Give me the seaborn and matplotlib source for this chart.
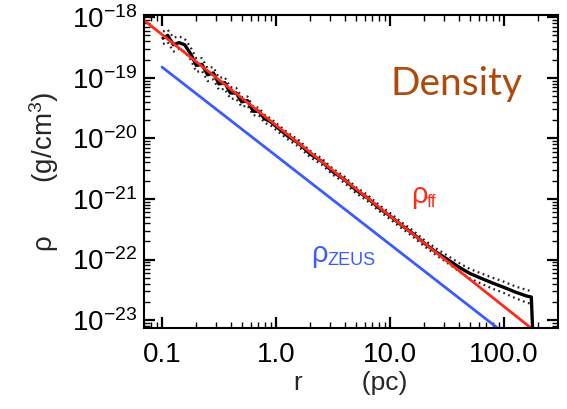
import numpy as np
import pandas as pd
import matplotlib
matplotlib.use("Agg")
import matplotlib.pyplot as plt
import matplotlib.ticker as mticker
import seaborn as sns

sns.set_style("ticks")
plt.rcParams['font.family'] = ['Liberation Sans', 'DejaVu Sans']
plt.rcParams['mathtext.default'] = 'regular'

# radius grid (pc) for the simulation profile
r = [0.102, 0.112, 0.126, 0.141, 0.158, 0.178, 0.2, 0.224, 0.251, 0.282,
     0.316, 0.355, 0.398, 0.447, 0.501, 0.562, 0.631, 0.708, 0.794, 0.891,
     1.0, 1.26, 1.58, 2.0, 2.51, 3.16, 3.98, 5.01, 6.31, 7.94,
     10.0, 12.6, 15.8, 20.0, 25.1, 31.6, 39.8, 50.1, 63.1, 79.4,
     100.0, 126.0, 158.0, 174.0, 180.0]

# mean density profile (g/cm^3)
rho_sim = [4.5e-19, 5.0e-19, 3.5e-19, 3.8e-19, 3.5e-19, 2.5e-19, 1.6e-19, 1.66e-19, 1.12e-19, 1.2e-19,
           7.9e-20, 8.3e-20, 5.6e-20, 5.6e-20, 4.0e-20, 4.2e-20, 2.8e-20, 2.8e-20, 2.1e-20, 1.9e-20,
           1.58e-20, 1.1e-20, 8.3e-21, 5.5e-21, 4.2e-21, 2.8e-21, 2.1e-21, 1.41e-21, 1.05e-21, 7.2e-22,
           5.25e-22, 3.7e-22, 2.7e-22, 1.86e-22, 1.35e-22, 1.02e-22, 7.6e-23, 5.9e-23, 4.9e-23, 4.1e-23,
           3.47e-23, 2.9e-23, 2.5e-23, 2.4e-23, 5e-24]

# spread of the profile (dotted curves)
rho_hi = [5.8e-19, 6.2e-19, 4.6e-19, 4.8e-19, 4.4e-19, 3.2e-19, 2.1e-19, 2.1e-19, 1.45e-19, 1.5e-19,
          1.0e-19, 1.02e-19, 7.0e-20, 6.8e-20, 4.8e-20, 4.9e-20, 3.3e-20, 3.2e-20, 2.45e-20, 2.15e-20,
          1.8e-20, 1.25e-20, 9.4e-21, 6.2e-21, 4.7e-21, 3.15e-21, 2.35e-21, 1.58e-21, 1.18e-21, 8.1e-22,
          5.9e-22, 4.15e-22, 3.05e-22, 2.1e-22, 1.55e-22, 1.18e-22, 8.9e-23, 7.0e-23, 5.9e-23, 5.0e-23,
          4.3e-23, 3.6e-23, 3.15e-23, 3.0e-23]
rho_lo = [3.6e-19, 3.9e-19, 2.7e-19, 3.0e-19, 2.7e-19, 2.0e-19, 1.25e-19, 1.3e-19, 8.8e-20, 9.4e-20,
          6.3e-20, 6.6e-20, 4.5e-20, 4.5e-20, 3.3e-20, 3.5e-20, 2.4e-20, 2.4e-20, 1.8e-20, 1.65e-20,
          1.38e-20, 9.7e-21, 7.3e-21, 4.85e-21, 3.7e-21, 2.5e-21, 1.85e-21, 1.25e-21, 9.3e-22, 6.4e-22,
          4.65e-22, 3.3e-22, 2.4e-22, 1.65e-22, 1.2e-22, 8.9e-23, 6.5e-23, 4.9e-23, 4.0e-23, 3.3e-23,
          2.8e-23, 2.3e-23, 1.95e-23, 1.85e-23]

# free-fall and ZEUS power laws (end points)
r_ff = [0.0695, 173.0]
rho_ff = [8.9e-19, 7.4e-24]
r_zeus = [0.1, 88.0]
rho_zeus = [1.5e-19, 7.4e-24]

xticks = [0.1, 1.0, 10.0, 100.0]
xticklabels = ['0.1', '1.0', '10.0', '100.0']
yticks = [1e-23, 1e-22, 1e-21, 1e-20, 1e-19, 1e-18]
yticklabels = ['10$^{-23}$', '10$^{-22}$', '10$^{-21}$', '10$^{-20}$', '10$^{-19}$', '10$^{-18}$']

RED = '#ff2a1a'
BLUE = '#3a5cff'
BROWN = '#b04a0c'

fig = plt.figure(figsize=(5.67, 4.09), dpi=100)
ax = fig.add_axes([0.254, 0.198, 0.730, 0.765])

# dotted spread first, then the mean profile, then the analytic lines on top
for band in (rho_hi, rho_lo):
    sns.lineplot(x=r[:-1], y=band, ax=ax, color='#222222', lw=1.6,
                 dashes=False, estimator=None, sort=False)
    ax.lines[-1].set_dashes((0.8, 1.6))
sns.lineplot(x=r, y=rho_sim, ax=ax, color='black', lw=2.4, estimator=None, sort=False)
sns.lineplot(x=r_ff, y=rho_ff, ax=ax, color=RED, lw=2.0, estimator=None, sort=False)
sns.lineplot(x=r_zeus, y=rho_zeus, ax=ax, color=BLUE, lw=2.0, estimator=None, sort=False)

ax.set_xscale('log')
ax.set_yscale('log')
ax.set_xlim(0.0695, 298)
ax.set_ylim(7.4e-24, 1.08e-18)

ax.set_xticks(xticks)
ax.set_xticklabels(xticklabels)
ax.set_yticks(yticks)
ax.set_yticklabels(yticklabels)
ax.xaxis.set_minor_locator(mticker.LogLocator(base=10, subs=np.arange(2, 10)))
ax.yaxis.set_minor_locator(mticker.LogLocator(base=10, subs=np.arange(2, 10), numticks=20))
ax.xaxis.set_minor_formatter(mticker.NullFormatter())
ax.yaxis.set_minor_formatter(mticker.NullFormatter())

ax.tick_params(which='both', direction='in', top=True, right=True, colors='black')
ax.tick_params(which='major', length=8, width=1.6, labelsize=20)
ax.tick_params(which='minor', length=4, width=1.0)
ax.tick_params(axis='x', which='major', pad=10)
ax.tick_params(axis='y', which='major', pad=5)
for s in ax.spines.values():
    s.set_linewidth(1.5)
    s.set_color('black')

ax.set_xlabel('r        (pc)', fontsize=19, labelpad=2)
ax.set_ylabel('ρ       (g/cm$^3$)', fontsize=20, labelpad=8)

fig.text(390 / 567, 1 - 95 / 409, 'Density', fontsize=28, color=BROWN,
         family=['Lato', 'DejaVu Sans'], va='baseline')
fig.text(411 / 567, 1 - 203 / 409, 'ρ', fontsize=21, color=RED, va='baseline')
fig.text(427 / 567, 1 - 207 / 409, 'ff', fontsize=13, color=RED, va='baseline')
fig.text(311 / 567, 1 - 262 / 409, 'ρ', fontsize=21, color=BLUE, va='baseline')
fig.text(327 / 567, 1 - 265 / 409, 'ZEUS', fontsize=13, color=BLUE, va='baseline')

plt.savefig('out.png', dpi=100)
